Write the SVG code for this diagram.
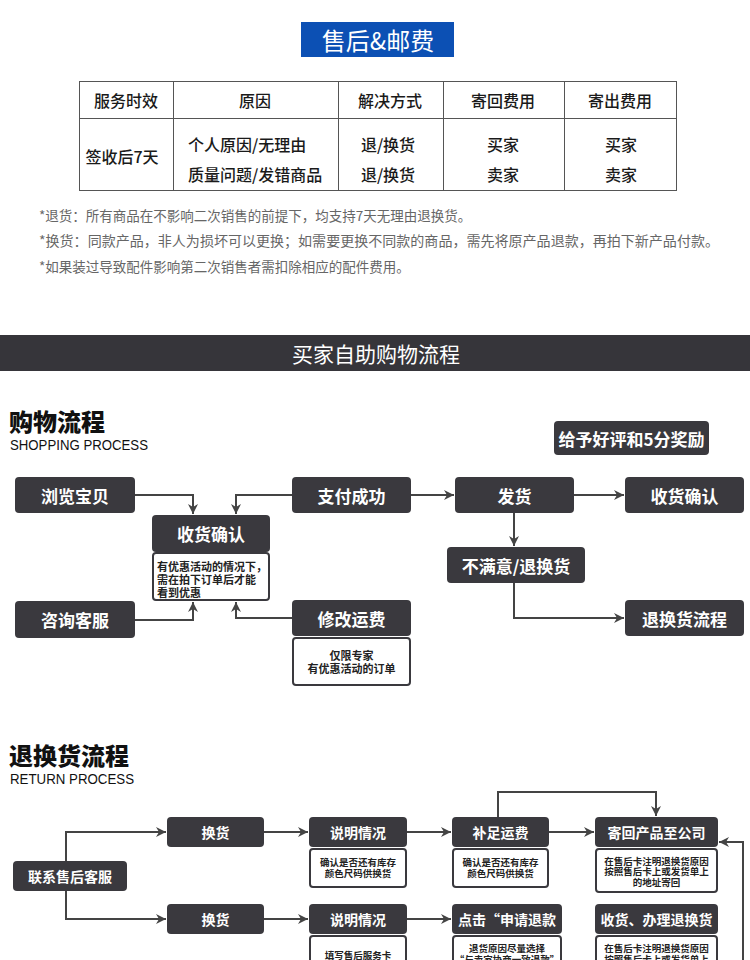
<svg xmlns="http://www.w3.org/2000/svg" width="750" height="960" viewBox="0 0 750 960">
<defs>
<style>
text{font-family:"Noto Sans CJK SC","Noto Sans",sans-serif}
.t{fill:#1a1a1a;font-size:16px;font-weight:500;dominant-baseline:central}
.mid{text-anchor:middle}
.note{fill:#666;font-size:13.5px;dominant-baseline:central}
.nd{fill:#3a393e}
.nt{fill:#fff;font-weight:700;font-size:17px;text-anchor:middle;dominant-baseline:central}
.rt{fill:#fff;font-weight:700;font-size:14px;text-anchor:middle;dominant-baseline:central}
.sb{fill:#fff;stroke:#3a393e;stroke-width:2}
.st{fill:#222;font-weight:700;font-size:11px;dominant-baseline:central}
.ss{fill:#222;font-weight:700;font-size:9.5px;text-anchor:middle;dominant-baseline:central}
.cn{fill:none;stroke:#444;stroke-width:2}
.grid{fill:none;stroke:#555;stroke-width:1}
.sub{fill:#111;font-size:14px;font-family:"Liberation Sans",Arial,sans-serif}
</style>
<marker id="ah" viewBox="0 0 10 10" refX="10" refY="5" markerWidth="10" markerHeight="10" markerUnits="userSpaceOnUse" orient="auto"><path d="M0,0 L10,5 L0,10 L3,5 z" fill="#444"/></marker>
</defs>
<rect width="750" height="960" fill="#fff"/>

<g id="header">
<rect x="301" y="22" width="153" height="35" fill="#0c50b4"/>
<text x="378" y="39.5" fill="#fff" font-size="24" text-anchor="middle" dominant-baseline="central">售后&amp;邮费</text>
</g>

<g id="table">
<rect class="grid" x="79.5" y="81.5" width="597" height="109"/>
<path class="grid" d="M79.5,118.5H676.5M173.5,81.5V190.5M338.5,81.5V190.5M443.5,81.5V190.5M564.5,81.5V190.5"/>
<text class="t mid" x="126" y="100">服务时效</text>
<text class="t mid" x="255" y="100">原因</text>
<text class="t mid" x="390" y="100">解决方式</text>
<text class="t mid" x="503" y="100">寄回费用</text>
<text class="t mid" x="620" y="100">寄出费用</text>
<text class="t mid" x="122" y="156">签收后7天</text>
<text class="t" x="188" y="144">个人原因/无理由</text>
<text class="t" x="188" y="174">质量问题/发错商品</text>
<text class="t mid" x="388" y="144">退/换货</text>
<text class="t mid" x="388" y="174">退/换货</text>
<text class="t mid" x="503" y="144">买家</text>
<text class="t mid" x="503" y="174">卖家</text>
<text class="t mid" x="621" y="144">买家</text>
<text class="t mid" x="621" y="174">卖家</text>
</g>

<g id="notes">
<text class="note" x="39" y="215">*退货：所有商品在不影响二次销售的前提下，均支持7天无理由退换货。</text>
<text class="note" x="39" y="240" textLength="680" lengthAdjust="spacingAndGlyphs">*换货：同款产品，非人为损坏可以更换；如需要更换不同款的商品，需先将原产品退款，再拍下新产品付款。</text>
<text class="note" x="39" y="266">*如果装过导致配件影响第二次销售者需扣除相应的配件费用。</text>
</g>

<g id="banner">
<rect x="0" y="335" width="750" height="36" fill="#36353a"/>
<text x="376" y="353" fill="#fff" font-size="21" text-anchor="middle" dominant-baseline="central">买家自助购物流程</text>
</g>

<g id="shop-title">
<text x="9" y="431" fill="#111" font-size="24" font-weight="900">购物流程</text>
<text class="sub" x="10" y="450" textLength="138" lengthAdjust="spacingAndGlyphs">SHOPPING PROCESS</text>
</g>

<g id="connectors">
<path class="cn" d="M135,495H193V514" marker-end="url(#ah)"/>
<path class="cn" d="M292,495H236V514" marker-end="url(#ah)"/>
<path class="cn" d="M135,620H193V602" marker-end="url(#ah)"/>
<path class="cn" d="M292,618H236V602" marker-end="url(#ah)"/>
<path class="cn" d="M411,495H454" marker-end="url(#ah)"/>
<path class="cn" d="M574,495H624" marker-end="url(#ah)"/>
<path class="cn" d="M514,513V546" marker-end="url(#ah)"/>
<path class="cn" d="M514,583V618H624" marker-end="url(#ah)"/>
<path class="cn" d="M66,861V832H166" marker-end="url(#ah)"/>
<path class="cn" d="M66,891V919H166" marker-end="url(#ah)"/>
<path class="cn" d="M264,832H308" marker-end="url(#ah)"/>
<path class="cn" d="M407,832H451" marker-end="url(#ah)"/>
<path class="cn" d="M549,832H594" marker-end="url(#ah)"/>
<path class="cn" d="M264,919H308" marker-end="url(#ah)"/>
<path class="cn" d="M407,919H451" marker-end="url(#ah)"/>
<path class="cn" d="M498,817V792H656V816" marker-end="url(#ah)"/>
<path class="cn" d="M743,962V842H719" marker-end="url(#ah)"/>
</g>

<g id="n-browse"><rect class="nd" x="15" y="477" width="120" height="36" rx="4"/><text class="nt" x="75" y="495">浏览宝贝</text></g>
<g id="n-pay"><rect class="nd" x="292" y="477" width="119" height="36" rx="4"/><text class="nt" x="351.5" y="495">支付成功</text></g>
<g id="n-ship"><rect class="nd" x="455" y="477" width="119" height="36" rx="4"/><text class="nt" x="514.5" y="495">发货</text></g>
<g id="n-confirm-r"><rect class="nd" x="625" y="477" width="119" height="36" rx="4"/><text class="nt" x="684.5" y="495">收货确认</text></g>
<g id="n-confirm-c">
<rect class="nd" x="152" y="515" width="118" height="37" rx="4"/><text class="nt" x="211" y="533">收货确认</text>
<rect class="sb" x="153" y="553" width="116" height="47" rx="3"/>
<text class="st" x="157" y="566">有优惠活动的情况下，</text>
<text class="st" x="157" y="579">需在拍下订单后才能</text>
<text class="st" x="157" y="592">看到优惠</text>
</g>
<g id="n-consult"><rect class="nd" x="15" y="601" width="120" height="37" rx="4"/><text class="nt" x="75" y="619.5">咨询客服</text></g>
<g id="n-fee">
<rect class="nd" x="292" y="600" width="119" height="36" rx="4"/><text class="nt" x="351.5" y="618">修改运费</text>
<rect class="sb" x="293" y="638" width="117" height="47" rx="3"/>
<text class="st" x="351.5" y="655" text-anchor="middle">仅限专家</text>
<text class="st" x="351.5" y="668" text-anchor="middle">有优惠活动的订单</text>
</g>
<g id="n-praise"><rect class="nd" x="554" y="421" width="155" height="34" rx="4"/><text class="nt" x="631.5" y="438" font-size="15">给予好评和5分奖励</text></g>
<g id="n-unsat"><rect class="nd" x="447" y="547" width="138" height="36" rx="4"/><text class="nt" x="516" y="565">不满意/退换货</text></g>
<g id="n-returnflow"><rect class="nd" x="625" y="600" width="119" height="36" rx="4"/><text class="nt" x="684.5" y="618">退换货流程</text></g>

<g id="return-title">
<text x="9" y="765" fill="#111" font-size="24" font-weight="900">退换货流程</text>
<text class="sub" x="10" y="784" textLength="124" lengthAdjust="spacingAndGlyphs">RETURN PROCESS</text>
</g>

<g id="r-contact"><rect class="nd" x="13" y="861" width="114" height="30" rx="4"/><text class="rt" x="70" y="876">联系售后客服</text></g>
<g id="r-exch1"><rect class="nd" x="167" y="817" width="97" height="30" rx="4"/><text class="rt" x="215.5" y="832">换货</text></g>
<g id="r-exch2"><rect class="nd" x="167" y="904" width="97" height="30" rx="4"/><text class="rt" x="215.5" y="919">换货</text></g>
<g id="r-explain1">
<rect class="nd" x="309" y="817" width="98" height="30" rx="4"/><text class="rt" x="358" y="832">说明情况</text>
<rect class="sb" x="310" y="849" width="96" height="38" rx="3"/>
<text class="ss" x="358" y="862">确认是否还有库存</text>
<text class="ss" x="358" y="873">颜色尺码供换货</text>
</g>
<g id="r-postage">
<rect class="nd" x="452" y="817" width="97" height="30" rx="4"/><text class="rt" x="500.5" y="832">补足运费</text>
<rect class="sb" x="453" y="849" width="95" height="38" rx="3"/>
<text class="ss" x="500.5" y="862">确认是否还有库存</text>
<text class="ss" x="500.5" y="873">颜色尺码供换货</text>
</g>
<g id="r-sendback">
<rect class="nd" x="595" y="817" width="123" height="30" rx="4"/><text class="rt" x="656.5" y="832">寄回产品至公司</text>
<rect class="sb" x="596" y="849" width="121" height="43" rx="3"/>
<text class="ss" x="656.5" y="860.5">在售后卡注明退换货原因</text>
<text class="ss" x="656.5" y="871">按照售后卡上或发货单上</text>
<text class="ss" x="656.5" y="881.5">的地址寄回</text>
</g>
<g id="r-explain2">
<rect class="nd" x="309" y="904" width="98" height="30" rx="4"/><text class="rt" x="358" y="919">说明情况</text>
<rect class="sb" x="310" y="936" width="96" height="40" rx="3"/>
<text class="ss" x="358" y="955">填写售后服务卡</text>
</g>
<g id="r-refund">
<rect class="nd" x="452" y="904" width="110" height="30" rx="4"/><text class="rt" x="507" y="919">点击“申请退款</text>
<rect class="sb" x="453" y="936" width="108" height="40" rx="3"/>
<text class="ss" x="507" y="948">退货原因尽量选择</text>
<text class="ss" x="507" y="959">“与卖家协商一致退款”</text>
</g>
<g id="r-receive">
<rect class="nd" x="595" y="904" width="123" height="30" rx="4"/><text class="rt" x="656.5" y="919">收货、办理退换货</text>
<rect class="sb" x="596" y="936" width="121" height="40" rx="3"/>
<text class="ss" x="656.5" y="948">在售后卡注明退换货原因</text>
<text class="ss" x="656.5" y="959">按照售后卡上或发货单上</text>
</g>
</svg>
